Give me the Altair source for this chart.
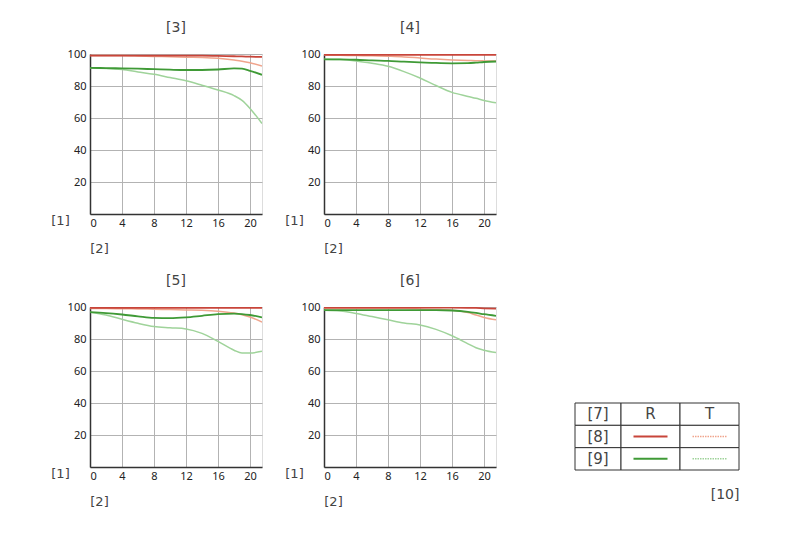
import altair as alt
import pandas as pd

# image height positions (mm) shared by all series
x_pos = [0, 2, 4, 6, 8, 10, 12, 14, 16, 18, 19, 20, 21.5]

panel_titles = ["[3]", "[4]", "[5]", "[6]"]

# contrast values (%)
r_red = [
    [99, 99, 99, 99, 99, 99, 99, 99, 98.8, 98.6, 98.5, 98.3, 98.2],
    [99.5, 99.5, 99.5, 99.5, 99.5, 99.5, 99.5, 99.5, 99.5, 99.5, 99.5, 99.5, 99.5],
    [99.5, 99.5, 99.5, 99.5, 99.5, 99.5, 99.5, 99.5, 99.5, 99.5, 99.5, 99.5, 99.5],
    [99.6, 99.6, 99.6, 99.6, 99.6, 99.6, 99.6, 99.6, 99.6, 99.5, 99.4, 99.2, 99.0],
]
t_red = [
    [99, 99, 99, 98.8, 98.5, 98.3, 98, 97.8, 97.3, 96.2, 95.5, 94.5, 92.5],
    [99.3, 99.2, 99, 98.9, 98.6, 98.2, 97.5, 96.8, 96.3, 96, 95.8, 95.7, 95.6],
    [99, 99, 98.9, 98.8, 98.6, 98.4, 98.2, 98, 97.4, 96.2, 95.2, 93.8, 90.5],
    [99, 99, 99, 99, 99, 99, 98.8, 98.5, 98, 96.5, 95, 93.5, 92],
]
r_green = [
    [91.3, 91.2, 91, 90.8, 90.5, 90.2, 90, 90, 90.3, 91, 90.8, 89.5, 87],
    [96.7, 96.6, 96.4, 96, 95.7, 95.2, 94.8, 94.4, 94.2, 94.3, 94.6, 95, 95.3],
    [96.8, 96.2, 95.3, 94.2, 93.2, 93, 93.5, 94.5, 95.5, 95.8, 95.6, 95, 93.5],
    [98, 98, 98, 98, 98, 98, 98, 98, 97.8, 97, 96.3, 95.5, 94.5],
]
t_green = [
    [91.3, 91, 90.3, 88.8, 87.3, 85.3, 83.3, 80.5, 77.5, 74, 71, 66, 56.5],
    [96.7, 96.5, 95.7, 94.2, 92.3, 89, 85, 80.3, 76, 73.5, 72.3, 71, 69.5],
    [96.8, 95, 92.3, 89.8, 87.8, 87, 86.3, 83.5, 78.5, 73, 71.2, 71.2, 72.3],
    [98, 97.5, 96, 94, 92, 90, 88.8, 86, 82, 77, 74.5, 73, 71.5],
]

x_ticks = [0, 4, 8, 12, 16, 20]
y_ticks = [20, 40, 60, 80, 100]

# legend table text
col_header = ["[7]", "R", "T"]
row_labels = ["[8]", "[9]"]
note = "[10]"

C_RED = "#c8453a"
C_RED_T = "#f0a48c"
C_GREEN = "#3f9a36"
C_GREEN_T = "#9fd39a"

FONT = "Noto Sans"
BFONT = "DejaVu Sans"
TXT = "#444444"


def panel(i):
    xs = alt.X(
        "x:Q",
        scale=alt.Scale(domain=[0, 21.5], nice=False, zero=False),
        axis=alt.Axis(
            values=x_ticks, grid=True, gridColor="#b3b3b3", gridWidth=1,
            domainColor="#333333", domainWidth=1.5, ticks=False,
            labelFontSize=11, labelColor="#222222", labelPadding=3, labelFont=FONT,
            title="[2]", titleX=9, titleY=34, titleAlign="center",
            titleBaseline="middle", titleFontSize=13, titleFontWeight="normal",
            titleColor=TXT, titleFont=BFONT,
        ),
    )
    ys = alt.Y(
        "y:Q",
        scale=alt.Scale(domain=[0, 100], nice=False),
        axis=alt.Axis(
            values=y_ticks, grid=True, gridColor="#b3b3b3", gridWidth=1,
            domainColor="#333333", domainWidth=1.5, ticks=False,
            labelFontSize=11, labelColor="#222222", labelPadding=4, labelFont=FONT,
            title="[1]", titleAngle=0, titleX=-30, titleY=166, titleAlign="center",
            titleBaseline="middle", titleFontSize=13, titleFontWeight="normal",
            titleColor=TXT, titleFont=BFONT,
        ),
    )
    layers = []
    for vals, col, w in [
        (t_green[i], C_GREEN_T, 1.5),
        (t_red[i], C_RED_T, 1.5),
        (r_green[i], C_GREEN, 1.8),
        (r_red[i], C_RED, 1.8),
    ]:
        df = pd.DataFrame({"x": x_pos, "y": vals})
        layers.append(
            alt.Chart(df).mark_line(interpolate="monotone", color=col, strokeWidth=w, clip=True)
            .encode(x=xs, y=ys)
        )
    return alt.layer(*layers).properties(
        width=172, height=160,
        title=alt.TitleParams(panel_titles[i], fontSize=14, fontWeight="normal",
                              font=BFONT, color=TXT, frame="group",
                              anchor="middle", offset=13),
    )


# legend table
col_edges = [0, 46, 105, 164]
cells = []
for r in range(3):
    for c in range(3):
        cells.append({"x0": col_edges[c], "x1": col_edges[c + 1], "y0": r, "y1": r + 1})
cell_df = pd.DataFrame(cells)

texts = []
for c in range(3):
    texts.append({"xc": (col_edges[c] + col_edges[c + 1]) / 2, "yc": 0.5, "t": col_header[c]})
for r, lab in enumerate(row_labels):
    texts.append({"xc": (col_edges[0] + col_edges[1]) / 2, "yc": r + 1.5, "t": lab})
text_df = pd.DataFrame(texts)

samples = []
for r, (solid, light) in enumerate([(C_RED, C_RED_T), (C_GREEN, C_GREEN_T)]):
    for c, colr, kind in [(1, solid, "R"), (2, light, "T")]:
        mid = (col_edges[c] + col_edges[c + 1]) / 2
        samples.append({"a": mid - 17, "b": mid + 17, "yc": r + 1.5, "col": colr, "kind": kind})
samp_df = pd.DataFrame(samples)

# legend column sits 17 units right of the grid column start
lx = alt.Scale(domain=[-17, 164], nice=False, zero=False)
ly = alt.Scale(domain=[-4.3, 3], nice=False, zero=False, reverse=True)

rects = alt.Chart(cell_df).mark_rect(fill="white", stroke="#333333", strokeWidth=1).encode(
    x=alt.X("x0:Q", scale=lx, axis=None), x2="x1:Q",
    y=alt.Y("y0:Q", scale=ly, axis=None), y2="y1:Q",
)
tx = alt.Chart(text_df).mark_text(fontSize=15, font=BFONT, color=TXT).encode(
    x=alt.X("xc:Q", scale=lx, axis=None), y=alt.Y("yc:Q", scale=ly, axis=None), text="t:N"
)
solid_lines = alt.Chart(samp_df).transform_filter(alt.datum.kind == "R").mark_rule(strokeWidth=2).encode(
    x=alt.X("a:Q", scale=lx, axis=None), x2="b:Q", y=alt.Y("yc:Q", scale=ly, axis=None),
    color=alt.Color("col:N", scale=None),
)
dotted_lines = alt.Chart(samp_df).transform_filter(alt.datum.kind == "T").mark_rule(
    strokeWidth=1.5, strokeDash=[1.5, 1]).encode(
    x=alt.X("a:Q", scale=lx, axis=None), x2="b:Q", y=alt.Y("yc:Q", scale=ly, axis=None),
    color=alt.Color("col:N", scale=None),
)
legend = alt.layer(rects, tx, solid_lines, dotted_lines).properties(
    width=181, height=163,
    view=alt.ViewBackground(strokeOpacity=0),
    title=alt.TitleParams(note, orient="bottom", anchor="end", fontSize=14,
                          fontWeight="normal", font=BFONT, color=TXT, offset=17),
)

# empty cell above the legend column
spacer = alt.Chart(pd.DataFrame({"v": [0]})).mark_point(opacity=0).encode(
    x=alt.X("v:Q", axis=None), y=alt.Y("v:Q", axis=None)
).properties(width=181, height=160, view=alt.ViewBackground(strokeOpacity=0))

chart = alt.concat(
    panel(0), panel(1), spacer, panel(2), panel(3), legend,
    columns=3, spacing={"row": 93, "column": 62}, bounds="flush", align="each",
).properties(
    padding={"left": 42, "top": 12, "right": 5, "bottom": 5}
).configure_view(stroke="#333333", strokeWidth=1.2).configure(background="white")

chart.save("out.html", embed_options={"renderer": "svg", "actions": False})
